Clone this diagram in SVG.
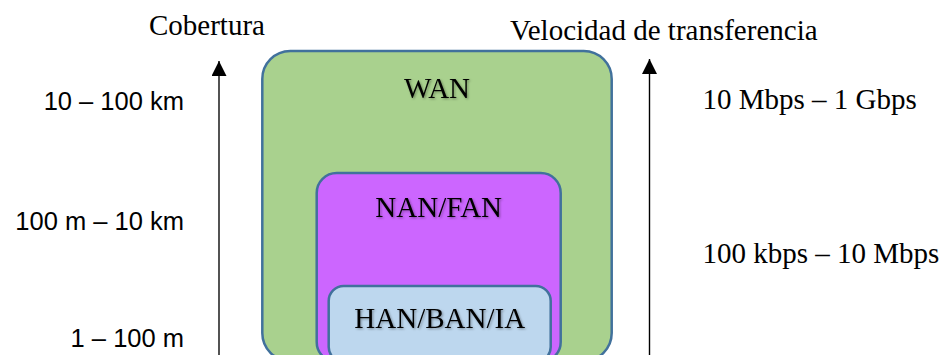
<svg xmlns="http://www.w3.org/2000/svg" width="942" height="355" viewBox="0 0 942 355">
  <style>
    .box { stroke: #41719C; stroke-width: 2.5; }
    .serif { font-family: "Liberation Serif", "Times New Roman", serif; font-size: 29px; fill: #000; }
    .sans { font-family: "Liberation Sans", Arial, sans-serif; font-size: 25.5px; fill: #000; text-anchor: end; }
    .lbl { font-family: "Liberation Serif", "Times New Roman", serif; font-size: 29px; fill: #000; text-anchor: middle; filter: url(#shadow); }
  </style>
  <defs>
    <filter id="shadow" x="-10%" y="-20%" width="130%" height="150%">
      <feDropShadow dx="1.2" dy="1.2" stdDeviation="0.8" flood-color="#000" flood-opacity="0.35"/>
    </filter>
    <marker id="arrowGray" viewBox="0 0 10 10" refX="10" refY="5" markerWidth="15" markerHeight="15" markerUnits="userSpaceOnUse" orient="auto">
      <path d="M0,0 L10,5 L0,10 Z" fill="#000"/>
    </marker>
  </defs>

  <g id="WAN">
    <rect class="box" x="262.3" y="51" width="349.4" height="310" rx="28" ry="28" fill="#A9D18E"/>
    <text class="lbl" x="437" y="98">WAN</text>
  </g>
  <g id="NAN_FAN">
    <rect class="box" x="316.7" y="173" width="244" height="189" rx="20" ry="20" fill="#CC66FF"/>
    <text class="lbl" x="438.7" y="217">NAN/FAN</text>
  </g>
  <g id="HAN_BAN_IA">
    <rect class="box" x="328.7" y="286" width="222" height="76" rx="15" ry="15" fill="#BDD7EE"/>
    <text class="lbl" x="439.7" y="328">HAN/BAN/IA</text>
  </g>

  <g id="connectors">
    <line x1="219" y1="360" x2="219" y2="61" stroke="#404040" stroke-width="1.8" marker-end="url(#arrowGray)"/>
    <line x1="649.5" y1="360" x2="649.5" y2="59" stroke="#000" stroke-width="1.4" marker-end="url(#arrowGray)"/>
  </g>

  <g id="axis-labels">
    <text class="serif" x="149" y="34.5">Cobertura</text>
    <text class="serif" x="510" y="40">Velocidad de transferencia</text>
    <text class="sans" x="184" y="110">10 – 100 km</text>
    <text class="sans" x="184" y="229.5">100 m – 10 km</text>
    <text class="sans" x="184" y="346.5">1 – 100 m</text>
    <text class="serif" x="702.5" y="108.5">10 Mbps – 1 Gbps</text>
    <text class="serif" x="702.5" y="262.5">100 kbps – 10 Mbps</text>
  </g>
</svg>
